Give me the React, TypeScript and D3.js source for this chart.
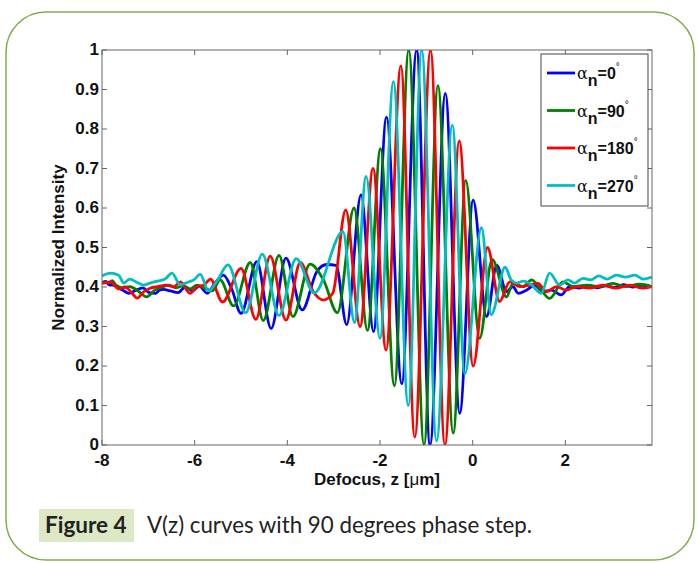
import React from 'react';
import * as d3 from 'd3';

type Pt = [number, number];

const xTicks = [-8, -6, -4, -2, 0, 2];
const xTickLabels = ['-8', '-6', '-4', '-2', '0', '2'];
const yTicks = [0, 0.1, 0.2, 0.3, 0.4, 0.5, 0.6, 0.7, 0.8, 0.9, 1];
const yTickLabels = ['0', '0.1', '0.2', '0.3', '0.4', '0.5', '0.6', '0.7', '0.8', '0.9', '1'];
const phaseLabels = ['0', '90', '180', '270'];

const blueData: Pt[] = [
  [-8.0, 0.41], [-7.92, 0.414], [-7.85, 0.406], [-7.7, 0.403], [-7.62, 0.396], [-7.55, 0.392], [-7.42, 0.384], [-7.28, 0.391],
  [-7.12, 0.398], [-6.98, 0.386], [-6.84, 0.384], [-6.76, 0.392], [-6.68, 0.394], [-6.52, 0.39], [-6.36, 0.386],
  [-6.2, 0.4], [-6.05, 0.39], [-5.9, 0.402], [-5.73, 0.384], [-5.56, 0.41], [-5.38, 0.43],
  [-5.2, 0.395], [-5.0, 0.333], [-4.66, 0.464], [-4.35, 0.295], [-4.03, 0.473], [-3.68, 0.342],
  [-3.36, 0.44], [-3.15, 0.457], [-2.95, 0.455], [-2.72, 0.305], [-2.41, 0.633], [-2.14, 0.287],
  [-1.86, 0.83], [-1.53, 0.155], [-1.21, 1.0], [-0.92, 0.0], [-0.59, 0.89], [-0.28, 0.08],
  [0.01, 0.62], [0.3, 0.325], [0.52, 0.455], [0.73, 0.388], [0.87, 0.401], [0.98, 0.384],
  [1.16, 0.392], [1.34, 0.405], [1.52, 0.388], [1.7, 0.392], [1.91, 0.38], [2.09, 0.401],
  [2.31, 0.397], [2.5, 0.405], [2.7, 0.398], [2.88, 0.403], [3.06, 0.399], [3.25, 0.406],
  [3.45, 0.4], [3.65, 0.404], [3.87, 0.401],
];

const greenData: Pt[] = [
  [-8.0, 0.413], [-7.85, 0.41], [-7.78, 0.416], [-7.7, 0.405], [-7.55, 0.398], [-7.4, 0.401], [-7.22, 0.39],
  [-7.04, 0.375], [-6.86, 0.392], [-6.7, 0.4], [-6.55, 0.405], [-6.4, 0.398], [-6.25, 0.403],
  [-6.1, 0.395], [-5.95, 0.405], [-5.8, 0.398], [-5.62, 0.39], [-5.45, 0.418], [-5.16, 0.352],
  [-4.8, 0.462], [-4.52, 0.315], [-4.18, 0.48], [-3.88, 0.325], [-3.51, 0.458], [-3.22, 0.418],
  [-2.92, 0.335], [-2.56, 0.6], [-2.27, 0.29], [-1.99, 0.75], [-1.69, 0.15], [-1.38, 1.0],
  [-1.05, 0.0], [-0.75, 0.91], [-0.42, 0.03], [-0.15, 0.67], [0.15, 0.27], [0.42, 0.47],
  [0.73, 0.375], [0.87, 0.409], [1.09, 0.401], [1.27, 0.418], [1.45, 0.397], [1.66, 0.371],
  [1.95, 0.413], [2.16, 0.401], [2.45, 0.405], [2.74, 0.401], [3.02, 0.409], [3.31, 0.401],
  [3.6, 0.407], [3.87, 0.401],
];

const redData: Pt[] = [
  [-8.0, 0.409], [-7.82, 0.413], [-7.64, 0.395], [-7.5, 0.4], [-7.38, 0.388], [-7.24, 0.372],
  [-7.1, 0.388], [-6.96, 0.397], [-6.8, 0.401], [-6.62, 0.405], [-6.45, 0.4], [-6.31, 0.413],
  [-6.1, 0.384], [-5.95, 0.401], [-5.8, 0.405], [-5.66, 0.42], [-5.4, 0.362], [-5.0, 0.447],
  [-4.68, 0.318], [-4.37, 0.478], [-4.03, 0.316], [-3.72, 0.462], [-3.44, 0.388], [-3.22, 0.367],
  [-3.02, 0.384], [-2.74, 0.595], [-2.43, 0.3], [-2.15, 0.7], [-1.87, 0.24], [-1.55, 0.96],
  [-1.25, 0.02], [-0.91, 1.0], [-0.6, 0.0], [-0.29, 0.77], [0.01, 0.2], [0.32, 0.5],
  [0.58, 0.363], [0.8, 0.413], [1.02, 0.401], [1.23, 0.405], [1.41, 0.409], [1.59, 0.388],
  [1.81, 0.401], [2.02, 0.392], [2.24, 0.401], [2.52, 0.397], [2.81, 0.405], [3.09, 0.397],
  [3.38, 0.405], [3.67, 0.397], [3.87, 0.401],
];

const cyanData: Pt[] = [
  [-8.0, 0.428], [-7.82, 0.435], [-7.64, 0.43], [-7.53, 0.41], [-7.4, 0.42], [-7.25, 0.412],
  [-7.1, 0.405], [-6.96, 0.41], [-6.8, 0.415], [-6.64, 0.42], [-6.49, 0.435], [-6.31, 0.405],
  [-6.15, 0.412], [-6.02, 0.418], [-5.88, 0.432], [-5.7, 0.39], [-5.52, 0.415], [-5.28, 0.456],
  [-4.9, 0.335], [-4.54, 0.483], [-4.18, 0.328], [-3.81, 0.472], [-3.42, 0.385], [-2.8, 0.54],
  [-2.55, 0.31], [-2.3, 0.68], [-2.0, 0.27], [-1.71, 0.92], [-1.39, 0.1], [-1.1, 1.0],
  [-0.78, 0.01], [-0.44, 0.81], [-0.17, 0.18], [0.19, 0.55], [0.4, 0.33], [0.7, 0.45],
  [0.83, 0.418], [0.95, 0.41], [1.1, 0.415], [1.27, 0.405], [1.48, 0.384], [1.66, 0.435],
  [1.88, 0.405], [2.05, 0.418], [2.2, 0.41], [2.38, 0.422], [2.55, 0.418], [2.72, 0.428],
  [2.9, 0.42], [3.1, 0.43], [3.3, 0.425], [3.5, 0.43], [3.68, 0.42], [3.87, 0.425],
];

const seriesData = [blueData, greenData, redData, cyanData];
const seriesColors = ['#0000ff', '#007f00', '#ff0000', '#00bfbf'];

export default function App() {
  const W = 699;
  const H = 563;
  const left = 102;
  const right = 652;
  const top = 50;
  const bottom = 445;
  const x = d3.scaleLinear().domain([-8, 3.87]).range([left, right]);
  const y = d3.scaleLinear().domain([0, 1]).range([bottom, top]);
  const line = d3
    .line<Pt>()
    .x((d) => x(d[0]))
    .y((d) => y(d[1]))
    .curve(d3.curveMonotoneX);

  const axisColor = '#666';
  const tickLen = 5;
  const font = "'Liberation Sans', Arial, sans-serif";
  const capFont = "Lato, 'Open Sans', sans-serif";

  const legX = 541;
  const legY = 54;
  const legW = 107;
  const legH = 152;

  return (
    <svg
      width={W}
      height={H}
      style={{ position: 'absolute', left: 0, top: 0, background: '#fff' }}
    >
      <rect x={0} y={0} width={W} height={H} fill="#fff" />
      <rect
        x={6}
        y={12}
        width={688}
        height={548}
        rx={40}
        ry={40}
        fill="none"
        stroke="#80ad50"
        strokeWidth={1.5}
      />
      <defs>
        <clipPath id="plotClip">
          <rect x={left} y={top} width={right - left} height={bottom - top} />
        </clipPath>
      </defs>

      <g clipPath="url(#plotClip)">
        {seriesData.map((d, i) => (
          <path
            key={i}
            d={line(d) || ''}
            fill="none"
            stroke={seriesColors[i]}
            strokeWidth={2.8}
            strokeLinejoin="round"
          />
        ))}
      </g>

      {/* axes box */}
      <rect
        x={left}
        y={top}
        width={right - left}
        height={bottom - top}
        fill="none"
        stroke={axisColor}
        strokeWidth={1}
      />
      {xTicks.map((t, i) => (
        <g key={'xt' + i}>
          <line x1={x(t)} x2={x(t)} y1={bottom} y2={bottom - tickLen} stroke={axisColor} />
          <line x1={x(t)} x2={x(t)} y1={top} y2={top + tickLen} stroke={axisColor} />
          <text
            x={x(t)}
            y={466}
            textAnchor="middle"
            fontFamily={font}
            fontWeight="bold"
            fontSize={17}
            fill="#111"
          >
            {xTickLabels[i]}
          </text>
        </g>
      ))}
      {yTicks.map((t, i) => (
        <g key={'yt' + i}>
          <line x1={left} x2={left + tickLen} y1={y(t)} y2={y(t)} stroke={axisColor} />
          <line x1={right} x2={right - tickLen} y1={y(t)} y2={y(t)} stroke={axisColor} />
          <text
            x={99}
            y={y(t) + 5}
            textAnchor="end"
            fontFamily={font}
            fontWeight="bold"
            fontSize={17}
            fill="#111"
          >
            {yTickLabels[i]}
          </text>
        </g>
      ))}

      <text
        x={(left + right) / 2}
        y={485}
        textAnchor="middle"
        fontFamily={font}
        fontWeight="bold"
        fontSize={17}
        fill="#111"
      >
        Defocus, z [<tspan fontWeight="normal">μ</tspan>m]
      </text>
      <text
        transform={`translate(64, ${(top + bottom) / 2}) rotate(-90)`}
        textAnchor="middle"
        fontFamily={font}
        fontWeight="bold"
        fontSize={17}
        fill="#111"
      >
        Normalized Intensity
      </text>

      {/* legend */}
      <rect x={legX} y={legY} width={legW} height={legH} fill="#fff" stroke="#444" strokeWidth={1} />
      {phaseLabels.map((p, i) => {
        const ly = 73 + i * 37.5;
        return (
          <g key={'lg' + i}>
            <line x1={547} x2={575} y1={ly} y2={ly} stroke={seriesColors[i]} strokeWidth={2.8} />
            <text x={577} y={ly + 6} fontFamily={font} fontSize={16} fill="#111">
              <tspan fontFamily="'DejaVu Serif', serif" fontSize={16}>α</tspan>
              <tspan fontWeight="bold" dy={7}>n</tspan>
              <tspan fontWeight="bold" dy={-7}>={p}</tspan>
              <tspan fontSize={10} dy={-9}>°</tspan>
            </text>
          </g>
        );
      })}

      {/* caption */}
      <rect x={39} y={509} width={95} height={33} fill="#dde8c4" />
      <text x={45} y={533} fontFamily={capFont} fontWeight="bold" fontSize={22.5} fill="#222">
        Figure 4
      </text>
      <text x={147} y={533} fontFamily={capFont} fontSize={22.3} fill="#222">
        V(z) curves with 90 degrees phase step.
      </text>
    </svg>
  );
}
